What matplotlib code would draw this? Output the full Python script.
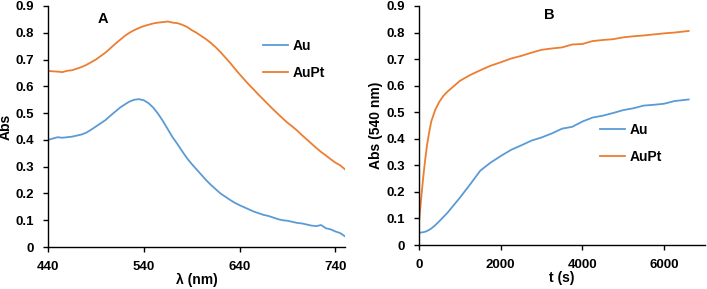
import numpy as np
import matplotlib
matplotlib.use("Agg")
import matplotlib.pyplot as plt

plt.rcParams['font.family'] = ['Liberation Sans', 'DejaVu Sans']
plt.rcParams['font.weight'] = 'bold'

BLUE = '#5B9BD5'
ORANGE = '#ED7D31'

# panel A: spectra
wl = [440, 445, 450, 455, 460, 465, 470, 475, 480, 485, 490, 495, 500, 505, 510, 515, 520, 525,
      530, 535, 540, 545, 550, 555, 560, 565, 570, 575, 580, 585, 590, 595, 600, 605, 610, 615,
      620, 625, 630, 635, 640, 645, 650, 655, 660, 665, 670, 675, 680, 685, 690, 695, 700, 705,
      710, 715, 720, 725, 730, 735, 740, 745, 750]
abs_au = [0.400, 0.405, 0.410, 0.408, 0.410, 0.412, 0.416, 0.420, 0.427, 0.438, 0.450, 0.462,
          0.474, 0.490, 0.505, 0.520, 0.532, 0.543, 0.550, 0.552, 0.548, 0.537, 0.520, 0.497,
          0.470, 0.440, 0.410, 0.385, 0.358, 0.332, 0.310, 0.290, 0.270, 0.250, 0.232, 0.216,
          0.200, 0.188, 0.176, 0.165, 0.156, 0.148, 0.140, 0.132, 0.126, 0.120, 0.116, 0.110,
          0.104, 0.100, 0.098, 0.094, 0.090, 0.088, 0.084, 0.080, 0.078, 0.082, 0.070, 0.066,
          0.058, 0.052, 0.040]
abs_aupt = [0.658, 0.656, 0.655, 0.653, 0.658, 0.660, 0.666, 0.672, 0.680, 0.690, 0.700, 0.713,
            0.726, 0.742, 0.758, 0.773, 0.788, 0.800, 0.810, 0.818, 0.825, 0.830, 0.835, 0.838,
            0.840, 0.842, 0.838, 0.836, 0.830, 0.822, 0.810, 0.800, 0.788, 0.776, 0.762, 0.746,
            0.728, 0.708, 0.688, 0.666, 0.645, 0.625, 0.605, 0.587, 0.568, 0.550, 0.532, 0.514,
            0.497, 0.480, 0.464, 0.450, 0.435, 0.418, 0.402, 0.386, 0.370, 0.355, 0.342, 0.328,
            0.315, 0.305, 0.290]

# panel B: kinetics at 540 nm
t = [0, 50, 100, 150, 200, 250, 300, 400, 500, 600, 700, 850, 1000, 1250, 1500, 1750, 2000,
     2250, 2500, 2750, 3000, 3250, 3500, 3750, 4000, 4250, 4500, 4750, 5000, 5250, 5500, 5750,
     6000, 6250, 6600]
kin_au = [0.047, 0.047, 0.048, 0.050, 0.053, 0.057, 0.062, 0.075, 0.090, 0.106, 0.122, 0.150,
          0.178, 0.228, 0.280, 0.310, 0.335, 0.358, 0.375, 0.393, 0.405, 0.420, 0.438, 0.445,
          0.465, 0.480, 0.487, 0.497, 0.508, 0.515, 0.525, 0.528, 0.532, 0.542, 0.548]
kin_aupt = [0.085, 0.170, 0.250, 0.320, 0.380, 0.425, 0.465, 0.510, 0.540, 0.562, 0.578, 0.598,
            0.618, 0.640, 0.658, 0.675, 0.688, 0.702, 0.712, 0.724, 0.735, 0.740, 0.744, 0.755,
            0.757, 0.768, 0.772, 0.775, 0.782, 0.786, 0.789, 0.793, 0.797, 0.800, 0.806]

fig = plt.figure(figsize=(7.07, 2.89), dpi=100)
ax1 = fig.add_axes([48/707, 42/289, 297/707, 241/289])
ax2 = fig.add_axes([419/707, 44/289, 286/707, 239/289])

ax1.plot(wl, abs_au, color=BLUE, lw=1.3, label='Au')
ax1.plot(wl, abs_aupt, color=ORANGE, lw=1.3, label='AuPt')
ax1.set_xlim(440, 750)
ax1.set_xticks([440, 540, 640, 740])
ax1.set_xlabel('λ (nm)', fontsize=10, fontweight='bold', labelpad=0)
ax1.set_ylabel('Abs', fontsize=10, fontweight='bold')
ax1.yaxis.set_label_coords(-0.118, 0.5)
ax1.text(497, 0.85, 'A', fontsize=10.5, fontweight='bold', ha='center', va='center')
ax1.legend(loc='upper left', bbox_to_anchor=(0.725, 0.865), frameon=False, fontsize=10,
           handlelength=1.8, handletextpad=0.3, labelspacing=0.95, borderpad=0, borderaxespad=0)

ax2.plot(t, kin_au, color=BLUE, lw=1.3, label='Au')
ax2.plot(t, kin_aupt, color=ORANGE, lw=1.3, label='AuPt')
ax2.set_xlim(0, 7000)
ax2.set_xticks([0, 2000, 4000, 6000])
ax2.set_xlabel('t (s)', fontsize=10, fontweight='bold', labelpad=0)
ax2.set_ylabel('Abs (540 nm)', fontsize=10, fontweight='bold')
ax2.yaxis.set_label_coords(-0.126, 0.5)
ax2.text(3200, 0.865, 'B', fontsize=10.5, fontweight='bold', ha='center', va='center')
ax2.legend(loc='upper left', bbox_to_anchor=(0.633, 0.51), frameon=False, fontsize=10,
           handlelength=1.8, handletextpad=0.3, labelspacing=0.95, borderpad=0, borderaxespad=0)

for ax in (ax1, ax2):
    ax.set_ylim(0, 0.9)
    ax.set_yticks(np.arange(0, 0.91, 0.1))
    ax.set_yticklabels(['0'] + ['%.1f' % v for v in np.arange(0.1, 0.91, 0.1)])
    ax.spines['top'].set_visible(False)
    ax.spines['right'].set_visible(False)
    for s in ('left', 'bottom'):
        ax.spines[s].set_color('black')
        ax.spines[s].set_linewidth(1.0)
    ax.tick_params(direction='out', length=3.5, width=1.0, labelsize=9.5, pad=6.5)
    for lab in ax.get_xticklabels() + ax.get_yticklabels():
        lab.set_fontweight('bold')

fig.savefig('out.png', dpi=100)
